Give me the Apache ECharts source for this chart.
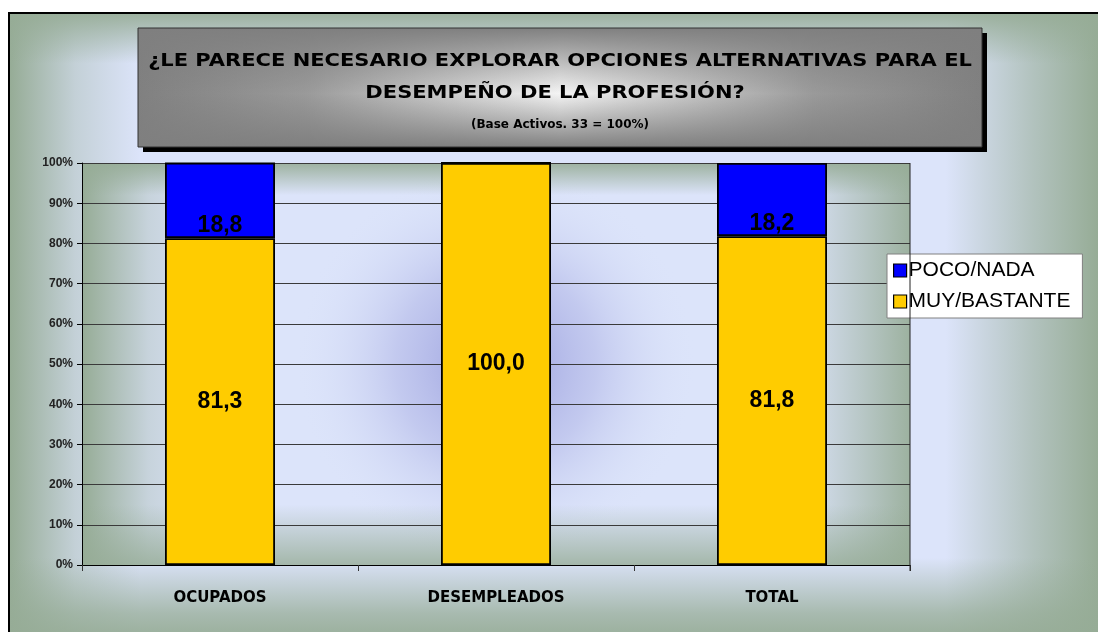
<!DOCTYPE html>
<html>
<head>
<meta charset="utf-8">
<script src="https://cdn.jsdelivr.net/npm/echarts@6/dist/echarts.min.js"></script>
<style>
html,body{margin:0;padding:0;background:#ffffff;}
#c{width:1098px;height:632px;}
</style>
</head>
<body>
<div id="c"></div>
<script>
var categories = ['OCUPADOS', 'DESEMPLEADOS', 'TOTAL'];
var muyBastante = [81.3, 100.0, 81.8];
var pocoNada = [18.8, 0, 18.2];
var seriesNames = ['POCO/NADA', 'MUY/BASTANTE'];
var yTicks = [0, 10, 20, 30, 40, 50, 60, 70, 80, 90, 100];

var titleLines = ['¿LE PARECE NECESARIO EXPLORAR OPCIONES ALTERNATIVAS PARA EL', 'DESEMPEÑO DE LA PROFESIÓN?'];
var subtitle = '(Base Activos. 33 = 100%)';

var chart = echarts.init(document.getElementById('c'), null, {renderer: 'canvas'});

function fmt(v) { return v === 0 ? '' : v.toFixed(1).replace('.', ','); }

var G = {left: 82, top: 163, right: 1098 - 910, bottom: 632 - 565};
var green = 'rgba(150,172,150,';
var gray = 'rgba(127,127,127,';
var option = {
  animation: false,
  graphic: [
    // outer frame background
    {type: 'rect', z: -10, silent: true, shape: {x: 9, y: 13, width: 1095, height: 625},
      style: {fill: '#dce4fa', stroke: '#000', lineWidth: 2}},
    {type: 'rect', z: -9, silent: true, shape: {x: 10, y: 14, width: 1088, height: 618},
      style: {fill: new echarts.graphic.LinearGradient(0, 0, 1, 0, [
        {offset: 0, color: green + '1)'}, {offset: 0.06, color: green + '0.35)'}, {offset: 0.12, color: green + '0)'},
        {offset: 0.86, color: green + '0)'}, {offset: 0.94, color: green + '0.6)'}, {offset: 1, color: green + '1)'}])}},
    {type: 'rect', z: -9, silent: true, shape: {x: 10, y: 14, width: 1088, height: 618},
      style: {fill: new echarts.graphic.LinearGradient(0, 0, 0, 1, [
        {offset: 0, color: green + '0.9)'}, {offset: 0.08, color: green + '0)'},
        {offset: 0.88, color: green + '0)'}, {offset: 0.97, color: green + '0.75)'}, {offset: 1, color: green + '0.9)'}])}},
    // plot area background
    {type: 'rect', z: -8, silent: true, shape: {x: 82, y: 163, width: 828, height: 402},
      style: {fill: '#dce4fa'}},
    {type: 'rect', z: -7, silent: true, shape: {x: 82, y: 163, width: 828, height: 402},
      style: {fill: new echarts.graphic.RadialGradient(0.5, 0.5, 0.5, [
        {offset: 0, color: 'rgba(150,155,220,1)'}, {offset: 0.5, color: 'rgba(170,175,228,0.5)'}, {offset: 1, color: 'rgba(220,228,250,0)'}])}},
    {type: 'rect', z: -7, silent: true, shape: {x: 82, y: 163, width: 828, height: 402},
      style: {fill: new echarts.graphic.LinearGradient(0, 0, 1, 0, [
        {offset: 0, color: green + '1)'}, {offset: 0.08, color: green + '0.3)'}, {offset: 0.16, color: green + '0)'},
        {offset: 0.86, color: green + '0)'}, {offset: 0.94, color: green + '0.5)'}, {offset: 1, color: green + '0.9)'}])}},
    {type: 'rect', z: -7, silent: true, shape: {x: 82, y: 163, width: 828, height: 402},
      style: {fill: new echarts.graphic.LinearGradient(0, 0, 0, 1, [
        {offset: 0, color: green + '0.9)'}, {offset: 0.08, color: green + '0)'},
        {offset: 0.85, color: green + '0)'}, {offset: 1, color: green + '0.8)'}])}},
    // title box shadow
    {type: 'rect', z: 1, silent: true, shape: {x: 143, y: 33, width: 844, height: 119},
      style: {fill: '#000'}},
    // title box
    {type: 'rect', z: 2, silent: true, shape: {x: 138, y: 28, width: 844, height: 119},
      style: {fill: new echarts.graphic.LinearGradient(0, 0, 1, 0, [
        {offset: 0, color: '#808080'}, {offset: 0.2, color: '#9a9a9a'}, {offset: 0.5, color: '#f4f4f4'}, {offset: 0.8, color: '#9a9a9a'}, {offset: 1, color: '#808080'}])}},
    {type: 'rect', z: 2, silent: true, shape: {x: 138, y: 28, width: 844, height: 119},
      style: {fill: new echarts.graphic.LinearGradient(0, 0, 0, 1, [
        {offset: 0, color: gray + '1)'}, {offset: 0.55, color: gray + '0)'}, {offset: 1, color: gray + '1)'}]),
        stroke: '#333', lineWidth: 1}},
    {type: 'text', z: 3, silent: true, x: 560, y: 61, scaleX: 1.2,
      style: {text: titleLines[0], fill: '#000', font: 'bold 17.5px "DejaVu Sans"', align: 'center', verticalAlign: 'middle'}},
    {type: 'text', z: 3, silent: true, x: 555, y: 93, scaleX: 1.2,
      style: {text: titleLines[1], fill: '#000', font: 'bold 17.5px "DejaVu Sans"', align: 'center', verticalAlign: 'middle'}},
    {type: 'text', z: 3, silent: true, x: 560, y: 125,
      style: {text: subtitle, fill: '#000', font: 'bold 12px "DejaVu Sans"', align: 'center', verticalAlign: 'middle'}},
    // plot right border
    {type: 'line', z: 5, silent: true, shape: {x1: 910, y1: 163, x2: 910, y2: 571}, style: {stroke: '#222', lineWidth: 1}}
  ],
  legend: {
    data: seriesNames,
    orient: 'vertical',
    left: 887, top: 254,
    padding: [6, 12, 6, 6],
    itemGap: 10,
    itemWidth: 13, itemHeight: 13,
    backgroundColor: '#ffffff',
    borderColor: '#808080', borderWidth: 1,
    icon: 'rect',
    textStyle: {fontFamily: 'Liberation Sans', fontSize: 21, color: '#000', padding: [0, 0, 0, -3]},
    itemStyle: {borderColor: '#000', borderWidth: 1.2}
  },
  grid: {left: G.left, top: G.top, right: G.right, bottom: G.bottom, containLabel: false},
  xAxis: {
    type: 'category',
    data: categories,
    axisLine: {lineStyle: {color: '#000', width: 1}},
    axisTick: {show: true, length: 6, lineStyle: {color: '#333'}},
    axisLabel: {margin: 26, fontFamily: 'DejaVu Sans', fontWeight: 'bold', fontSize: 15, color: '#000'}
  },
  yAxis: {
    type: 'value',
    min: 0, max: 100, interval: 10,
    axisLine: {show: true, lineStyle: {color: '#000', width: 1}},
    axisTick: {show: true, length: 5, lineStyle: {color: '#000'}},
    axisLabel: {margin: 9, fontFamily: 'Liberation Sans', fontWeight: 'bold', fontSize: 12, color: '#222',
      formatter: function (v) { return yTicks.indexOf(v) >= 0 ? v + '%' : ''; }},
    splitLine: {show: true, lineStyle: {color: '#3a3a3a', width: 1}}
  },
  series: [
    {
      name: 'MUY/BASTANTE', type: 'bar', stack: 'total', data: muyBastante,
      barWidth: 110,
      itemStyle: {color: '#ffcc00', borderColor: '#000', borderWidth: 1.8},
      label: {show: true, position: 'inside', formatter: function (p) { return fmt(p.value); },
        fontFamily: 'Liberation Sans', fontWeight: 'bold', fontSize: 23, color: '#000', textBorderWidth: 0}
    },
    {
      name: 'POCO/NADA', type: 'bar', stack: 'total', data: pocoNada,
      barWidth: 110,
      itemStyle: {color: '#0000ff', borderColor: '#000', borderWidth: 1.8},
      label: {show: true, position: 'insideBottom', distance: 1, formatter: function (p) { return fmt(p.value); },
        fontFamily: 'Liberation Sans', fontWeight: 'bold', fontSize: 23, color: '#000', textBorderWidth: 0}
    }
  ]
};
chart.setOption(option);
</script>
</body>
</html>
